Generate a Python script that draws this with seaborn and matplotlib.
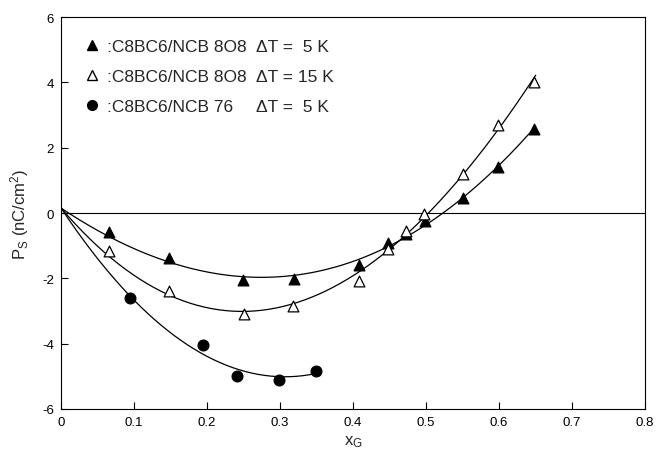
import numpy as np
import pandas as pd
import seaborn as sns
import matplotlib.pyplot as plt
from matplotlib.lines import Line2D

# C8BC6/NCB 8O8, dT = 5 K (filled triangles)
x_808_5 = [0.065, 0.148, 0.249, 0.319, 0.408, 0.448, 0.472, 0.499, 0.550, 0.599, 0.648]
ps_808_5 = [-0.58, -1.38, -2.05, -2.02, -1.60, -0.92, -0.64, -0.25, 0.46, 1.41, 2.57]

# C8BC6/NCB 8O8, dT = 15 K (open triangles)
x_808_15 = [0.066, 0.148, 0.250, 0.318, 0.408, 0.448, 0.472, 0.497, 0.550, 0.599, 0.648]
ps_808_15 = [-1.17, -2.39, -3.10, -2.85, -2.07, -1.10, -0.55, -0.03, 1.19, 2.70, 4.00]

# C8BC6/NCB 76, dT = 5 K (filled circles)
x_76_5 = [0.094, 0.195, 0.241, 0.298, 0.349]
ps_76_5 = [-2.60, -4.04, -5.00, -5.10, -4.83]

# all fitted curves start from about here
x_start = 0.0
ps_start = 0.15

series_names = [":C8BC6/NCB 8O8", ":C8BC6/NCB 8O8", ":C8BC6/NCB 76"]
delta_t = ["\u0394T =  5 K", "\u0394T = 15 K", "\u0394T =  5 K"]
x_ticks = [0, 0.1, 0.2, 0.3, 0.4, 0.5, 0.6, 0.7, 0.8]
x_tick_labels = ["0", "0.1", "0.2", "0.3", "0.4", "0.5", "0.6", "0.7", "0.8"]
y_ticks = [-6, -4, -2, 0, 2, 4, 6]


def fit_curve(xs, ys, order, x_end):
    # polynomial fit, pinned at the starting point
    xx = np.array([x_start] + list(xs))
    yy = np.array([ps_start] + list(ys))
    w = np.ones_like(xx)
    w[0] = 20
    coef = np.polyfit(xx, yy, order, w=w)
    grid = np.linspace(x_start, x_end, 200)
    return pd.DataFrame({"x": grid, "ps": np.polyval(coef, grid)})


def main():
    sns.set_style("ticks")
    plt.rcParams["font.family"] = ["Liberation Sans", "DejaVu Sans"]
    plt.rcParams["mathtext.default"] = "regular"
    plt.rcParams["axes.unicode_minus"] = False

    fig = plt.figure(figsize=(6.57, 4.52), dpi=100)
    ax = fig.add_axes([0.093, 0.093, 0.889, 0.867])

    ax.axhline(0, color="black", lw=0.8, zorder=1)

    fits = [
        fit_curve(x_808_5, ps_808_5, 3, 0.65),
        fit_curve(x_808_15, ps_808_15, 3, 0.65),
        fit_curve(x_76_5, ps_76_5, 2, 0.35),
    ]
    for df in fits:
        sns.lineplot(data=df, x="x", y="ps", ax=ax, color="black", lw=0.9,
                     estimator=None, sort=False)

    pts = [
        (x_808_5, ps_808_5, "^", "black"),
        (x_808_15, ps_808_15, "^", "white"),
        (x_76_5, ps_76_5, "o", "black"),
    ]
    for xs, ys, mk, fc in pts:
        sns.scatterplot(x=xs, y=ys, ax=ax, marker=mk, s=60, color=fc,
                        edgecolor="black", linewidth=0.9, zorder=3)

    ax.set_xlim(0, 0.8)
    ax.set_ylim(-6, 6)
    ax.set_xticks(x_ticks)
    ax.set_xticklabels(x_tick_labels)
    ax.set_yticks(y_ticks)
    ax.tick_params(direction="in", length=5, width=0.8, labelsize=9.5,
                   colors="black", pad=5)
    for sp in ax.spines.values():
        sp.set_visible(True)
        sp.set_color("black")
        sp.set_linewidth(0.8)

    ax.set_xlabel("x$_G$", fontsize=12, labelpad=4)
    ax.set_ylabel("P$_S$ (nC/cm$^2$)", fontsize=12, labelpad=8)

    handles = [
        Line2D([], [], marker="^", ls="none", mfc="black", mec="black", ms=7),
        Line2D([], [], marker="^", ls="none", mfc="white", mec="black", ms=7),
        Line2D([], [], marker="o", ls="none", mfc="black", mec="black", ms=7),
    ]
    blanks = [Line2D([], [], ls="none") for _ in range(3)]
    ax.legend(handles + blanks, series_names + delta_t, ncol=2,
              loc="upper left", bbox_to_anchor=(0.029, 0.962), frameon=False,
              fontsize=12.5, handlelength=0.8, handletextpad=0.45,
              columnspacing=-0.7, labelspacing=0.85, borderaxespad=0)

    fig.savefig("out.png", dpi=100)


if __name__ == "__main__":
    main()
